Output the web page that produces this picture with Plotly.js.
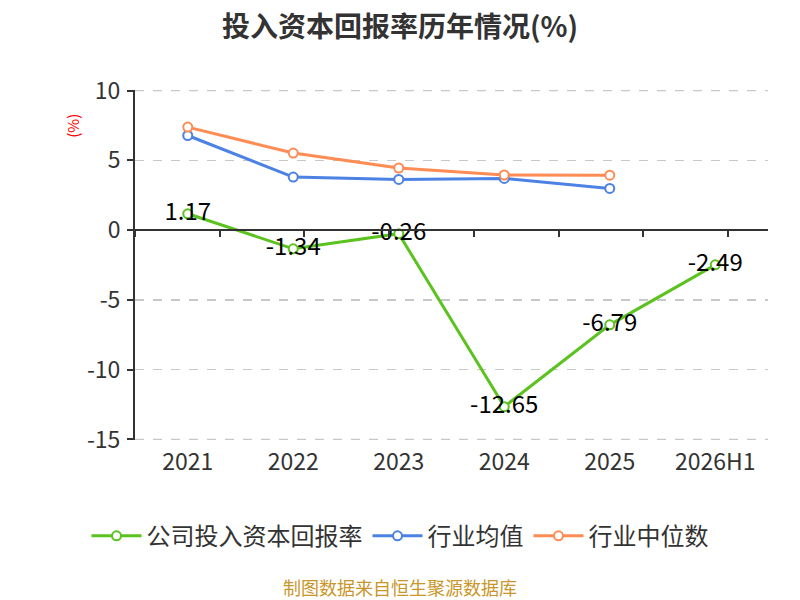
<!DOCTYPE html>
<html>
<head>
<meta charset="utf-8">
<script src="https://cdn.plot.ly/plotly-3.0.1.min.js"></script>
<style>
  html, body { margin: 0; padding: 0; background: #fff; }
  #chart { width: 800px; height: 600px; }
</style>
</head>
<body>
<div id="chart"></div>
<script>
  var years = ["2021", "2022", "2023", "2024", "2025", "2026H1"];
  var companyRoic = [1.17, -1.34, -0.26, -12.65, -6.79, -2.49];
  var industryAvg = [6.78, 3.8, 3.63, 3.7, 2.99];
  var industryMedian = [7.38, 5.52, 4.45, 3.95, 3.94];
  var yTicks = [-15, -10, -5, 0, 5, 10];
  var yTickText = ["-15", "-10", "-5", "0", "5", "10"];

  var font = "'Noto Sans CJK SC', 'Noto Sans', sans-serif";

  function series(name, y, color, labels) {
    var t = {
      x: years.slice(0, y.length),
      y: y,
      name: name,
      type: "scatter",
      mode: labels ? "lines+markers+text" : "lines+markers",
      line: { color: color, width: 3 },
      marker: { symbol: "circle", size: 9, color: "#fff", line: { color: color, width: 2 } },
      cliponaxis: false,
      hoverinfo: "x+y"
    };
    if (labels) {
      t.text = y.map(function (v) { return v.toFixed(2); });
      t.textposition = "middle center";
      t.textfont = { size: 24, color: "#000", family: font };
    }
    return t;
  }

  var data = [
    series("公司投入资本回报率", companyRoic, "#5cc21f", true),
    series("行业均值", industryAvg, "#4c82e3", false),
    series("行业中位数", industryMedian, "#ff8b55", false),
    // dummy trace so the zero line carries its own ticks
    { x: [0, 7.5], y: [0, 0], xaxis: "x2", yaxis: "y", mode: "none", showlegend: false, hoverinfo: "skip" }
  ];

  // edge gridlines (plotly drops the ones on the range borders)
  var edgeGrid = [yTicks[0], yTicks[yTicks.length - 1]].map(function (v) {
    return {
      type: "line", xref: "paper", yref: "y", x0: 0, x1: 1, y0: v, y1: v,
      layer: "below", line: { color: "#c8c8c8", width: 1.5, dash: "dash" }
    };
  });

  var layout = {
    width: 800,
    height: 600,
    margin: { l: 135, r: 32, t: 90, b: 160, autoexpand: false },
    paper_bgcolor: "#fff",
    plot_bgcolor: "#fff",
    font: { family: font, color: "#333" },
    title: {
      text: "<b>投入资本回报率历年情况(%)</b>",
      x: 0.5, xanchor: "center", y: 0.955, yanchor: "middle",
      font: { size: 28, color: "#333", family: font }
    },
    xaxis: {
      type: "category",
      categoryorder: "array",
      categoryarray: years,
      range: [-0.5, 5.5],
      showgrid: false,
      zeroline: false,
      showline: false,
      ticks: "",
      tickangle: 0,
      automargin: false,
      tickfont: { size: 23, color: "#333", family: font },
      ticklabelstandoff: 6
    },
    xaxis2: {
      overlaying: "x",
      anchor: "free",
      position: 0.6,
      range: [0, 7.47],
      tickvals: [0, 1, 2, 3, 4, 5, 6, 7],
      showticklabels: false,
      showgrid: false,
      zeroline: false,
      showline: true,
      linecolor: "#333",
      linewidth: 2,
      ticks: "outside",
      ticklen: 6,
      tickwidth: 2,
      tickcolor: "#333"
    },
    yaxis: {
      range: [-15.04, 10.04],
      tickvals: yTicks,
      ticktext: yTickText,
      showgrid: true,
      gridcolor: "#c8c8c8",
      griddash: "dash",
      gridwidth: 1.5,
      zeroline: false,
      showline: true,
      linecolor: "#333",
      linewidth: 2,
      ticks: "outside",
      ticklen: 6,
      tickwidth: 2,
      tickcolor: "#333",
      ticklabelstandoff: 2,
      automargin: false,
      tickfont: { size: 23, color: "#333", family: font }
    },
    legend: {
      orientation: "h",
      xref: "container",
      x: 0.5, xanchor: "center",
      y: -0.275, yanchor: "middle",
      font: { size: 24, color: "#333", family: font },
      itemwidth: 50,
      tracegroupgap: 0
    },
    shapes: edgeGrid,
    annotations: [
      {
        text: "(%)", xref: "paper", yref: "paper",
        x: -0.1, y: 0.897, xanchor: "center", yanchor: "middle",
        showarrow: false, textangle: -90,
        font: { size: 15, color: "#ff0000", family: font }
      },
      {
        text: "制图数据来自恒生聚源数据库", xref: "paper", yref: "paper",
        x: 0.419, y: -0.42, xanchor: "center", yanchor: "middle", showarrow: false,
        font: { size: 18, color: "#c8962a", family: font }
      }
    ],
    showlegend: true
  };

  Plotly.newPlot("chart", data, layout, { displayModeBar: false, staticPlot: true });
</script>
</body>
</html>
